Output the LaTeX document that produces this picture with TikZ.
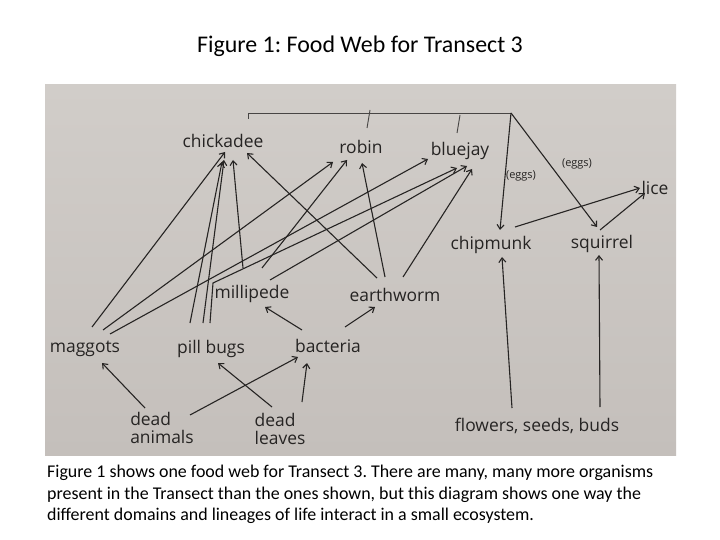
\documentclass[tikz,border=0pt]{standalone}
\usepackage{fontspec}
\setmainfont{Carlito}
\newfontfamily\handfont{Open Sans}
\usepackage{tikz}
\usetikzlibrary{arrows.meta,calc}
\definecolor{papertop}{RGB}{209,205,201}
\definecolor{paperbot}{RGB}{196,191,187}
\definecolor{ink}{RGB}{38,36,35}
\frenchspacing

\tikzset{
  organism/.style={font=\handfont\fontsize{17.5}{18}\selectfont,text=ink,inner sep=1pt,align=left},
  eggs/.style={font=\handfont\fontsize{11}{12}\selectfont,text=ink,inner sep=0pt},
  eats/.style={draw=ink,line width=1.1pt,-{Straight Barb[length=4.5pt,width=7pt]}},
  bracket/.style={draw=ink!85,line width=0.9pt}
}

\begin{document}
\begin{tikzpicture}[x=1bp,y=-1bp]
    \useasboundingbox[fill=white] (0,0) rectangle (720,540);
    \shade[top color=papertop,bottom color=paperbot] (45,85) rectangle (676,455);
    \node[font=\fontsize{24}{28}\selectfont] (title) at (360,46) {Figure 1: Food Web for Transect 3};
    \node[font=\fontsize{18}{21.5}\selectfont,align=left,anchor=north west,inner sep=0pt] (caption) at (47,465)
      {Figure 1 shows one food web for Transect 3. There are many, many more organisms\\
       present in the Transect than the ones shown, but this diagram shows one way the\\
       different domains and lineages of life interact in a small ecosystem.};

    % organisms
    \node[organism] (chickadee) at (223,141) {chickadee};
    \node[organism] (robin) at (361,147) {robin};
    \node[organism] (bluejay) at (460,151) {bluejay};
    \node[organism] (chipmunk) at (491,245) {chipmunk};
    \node[organism] (squirrel) at (602,244) {squirrel};
    \node[organism] (lice) at (655,188) {lice};
    \node[organism] (millipede) at (252,294) {millipede};
    \node[organism] (earthworm) at (395,295) {earthworm};
    \node[organism] (maggots) at (85,349) {maggots};
    \node[organism] (pillbugs) at (211,349) {pill bugs};
    \node[organism] (bacteria) at (328,346) {bacteria};
    \node[organism] (deadanimals) at (162,428) {dead\\animals};
    \node[organism] (deadleaves) at (280,429) {dead\\leaves};
    \node[organism] (flowers) at (537,426) {flowers, seeds, buds};
    \node[eggs] (eggsA) at (521,176) {(eggs)};
    \node[eggs] (eggsB) at (577,164) {(eggs)};

    % birds bracket
    \coordinate (birds) at (511,113);
    \draw[bracket] (248,119) -- (248,113) -- (birds);
    \draw[bracket] (370,110) -- (367,128);
    \draw[bracket] (460,115) -- (457,133);
    \draw[eats] (birds) -- ($(chipmunk)+(9,-15)$);
    \draw[eats] (birds) -- ($(squirrel)+(-5,-17)$);

    % decomposers
    \draw[eats] ($(deadanimals)+(-17,-20)$) -- ($(maggots)+(17,14)$);
    \draw[eats] ($(deadanimals)+(28,-13)$) -- ($(bacteria)+(-30,11)$);
    \draw[eats] ($(deadleaves)+(-8,-22)$) -- ($(pillbugs)+(7,14)$);
    \draw[eats] ($(deadleaves)+(22,-27)$) -- ($(bacteria)+(-21,17)$);
    \draw[eats] ($(bacteria)+(-26,-16)$) -- ($(millipede)+(13,13)$);
    \draw[eats] ($(bacteria)+(17,-19)$) -- ($(earthworm)+(-20,12)$);

    % up to the birds
    \draw[eats] ($(maggots)+(7,-22)$) -- ($(chickadee)+(2,11)$);
    \draw[eats] ($(maggots)+(18,-19)$) -- ($(robin)+(-28,15)$);
    \draw[eats] ($(maggots)+(25,-15)$) -- ($(bluejay)+(-32,8)$);
    \draw[eats] ($(pillbugs)+(-21,-26)$) -- ($(chickadee)+(-1,21)$);
    \draw[eats] ($(pillbugs)+(-8,-26)$) -- ($(chickadee)+(1,19)$);
    \draw[eats] ($(pillbugs)+(-1,-26)$) -- ($(pillbugs)+(2,-66)$) -- ($(bluejay)+(-3,17)$);
    \draw[eats] ($(millipede)+(-9,-26)$) -- ($(chickadee)+(10,19)$);
    \draw[eats] ($(millipede)+(10,-26)$) -- ($(robin)+(-14,13)$);
    \draw[eats] ($(millipede)+(18,-14)$) -- ($(bluejay)+(7,15)$);
    \draw[eats] ($(earthworm)+(-18,-17)$) -- ($(chickadee)+(24,12)$);
    \draw[eats] ($(earthworm)+(-10,-18)$) -- ($(robin)+(1,16)$);
    \draw[eats] ($(earthworm)+(8,-18)$) -- ($(bluejay)+(12,18)$);

    % rodents
    \draw[eats] ($(flowers)+(-25,-18)$) -- ($(chipmunk)+(11,12)$);
    \draw[eats] ($(flowers)+(63,-19)$) -- ($(squirrel)+(-3,11)$);
    \draw[eats] ($(chipmunk)+(24,-18)$) -- ($(lice)+(-15,0)$);
    \draw[eats] ($(squirrel)+(-2,-14)$) -- ($(lice)+(-10,5)$);
\end{tikzpicture}
\end{document}
